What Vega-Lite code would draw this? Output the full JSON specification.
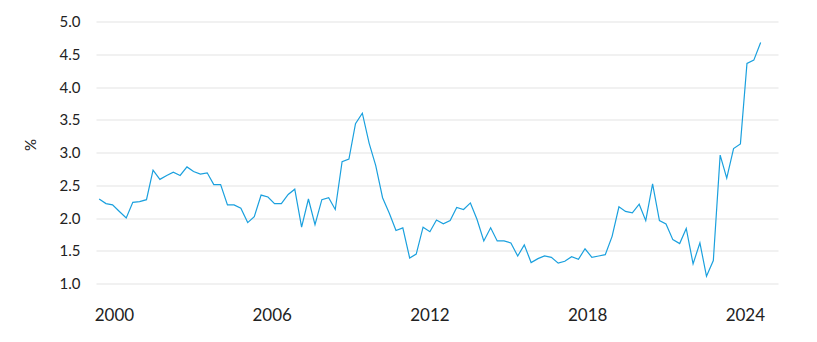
{
  "$schema": "https://vega.github.io/schema/vega-lite/v6.json",
  "width": 682,
  "height": 262,
  "autosize": "none",
  "padding": {"left": 96, "top": 21.5, "right": 39, "bottom": 58.5},
  "background": "white",
  "config": {
    "view": {"stroke": null},
    "font": "Lato"
  },
  "data": {
    "values": [
      {"year": 1999.44, "value": 2.29},
      {"year": 1999.70, "value": 2.22},
      {"year": 1999.95, "value": 2.20},
      {"year": 2000.21, "value": 2.10},
      {"year": 2000.47, "value": 2.00},
      {"year": 2000.72, "value": 2.24},
      {"year": 2000.98, "value": 2.25},
      {"year": 2001.24, "value": 2.28},
      {"year": 2001.49, "value": 2.73},
      {"year": 2001.75, "value": 2.59},
      {"year": 2002.01, "value": 2.65},
      {"year": 2002.26, "value": 2.70},
      {"year": 2002.52, "value": 2.65},
      {"year": 2002.78, "value": 2.78},
      {"year": 2003.03, "value": 2.71},
      {"year": 2003.29, "value": 2.67},
      {"year": 2003.55, "value": 2.69},
      {"year": 2003.80, "value": 2.51},
      {"year": 2004.06, "value": 2.51},
      {"year": 2004.32, "value": 2.20},
      {"year": 2004.57, "value": 2.20},
      {"year": 2004.83, "value": 2.15},
      {"year": 2005.09, "value": 1.93},
      {"year": 2005.34, "value": 2.02},
      {"year": 2005.60, "value": 2.35},
      {"year": 2005.86, "value": 2.32},
      {"year": 2006.11, "value": 2.22},
      {"year": 2006.37, "value": 2.22},
      {"year": 2006.63, "value": 2.36},
      {"year": 2006.88, "value": 2.44},
      {"year": 2007.14, "value": 1.86},
      {"year": 2007.40, "value": 2.29},
      {"year": 2007.65, "value": 1.90},
      {"year": 2007.91, "value": 2.28},
      {"year": 2008.17, "value": 2.31},
      {"year": 2008.42, "value": 2.13},
      {"year": 2008.68, "value": 2.86},
      {"year": 2008.94, "value": 2.90},
      {"year": 2009.19, "value": 3.44},
      {"year": 2009.45, "value": 3.60},
      {"year": 2009.71, "value": 3.14},
      {"year": 2009.96, "value": 2.80},
      {"year": 2010.22, "value": 2.31},
      {"year": 2010.48, "value": 2.07},
      {"year": 2010.73, "value": 1.81},
      {"year": 2010.99, "value": 1.85},
      {"year": 2011.25, "value": 1.39},
      {"year": 2011.50, "value": 1.45},
      {"year": 2011.76, "value": 1.86},
      {"year": 2012.02, "value": 1.79},
      {"year": 2012.27, "value": 1.97},
      {"year": 2012.53, "value": 1.91},
      {"year": 2012.79, "value": 1.96},
      {"year": 2013.04, "value": 2.16},
      {"year": 2013.30, "value": 2.13},
      {"year": 2013.56, "value": 2.23},
      {"year": 2013.81, "value": 1.98},
      {"year": 2014.07, "value": 1.65},
      {"year": 2014.33, "value": 1.85},
      {"year": 2014.58, "value": 1.65},
      {"year": 2014.84, "value": 1.65},
      {"year": 2015.10, "value": 1.62},
      {"year": 2015.36, "value": 1.42},
      {"year": 2015.61, "value": 1.59},
      {"year": 2015.87, "value": 1.32},
      {"year": 2016.13, "value": 1.38},
      {"year": 2016.38, "value": 1.42},
      {"year": 2016.64, "value": 1.40},
      {"year": 2016.90, "value": 1.31},
      {"year": 2017.15, "value": 1.34},
      {"year": 2017.41, "value": 1.41},
      {"year": 2017.67, "value": 1.37},
      {"year": 2017.92, "value": 1.53},
      {"year": 2018.18, "value": 1.40},
      {"year": 2018.44, "value": 1.42},
      {"year": 2018.69, "value": 1.44},
      {"year": 2018.95, "value": 1.72},
      {"year": 2019.21, "value": 2.17},
      {"year": 2019.46, "value": 2.10},
      {"year": 2019.72, "value": 2.08},
      {"year": 2019.98, "value": 2.21},
      {"year": 2020.23, "value": 1.96},
      {"year": 2020.49, "value": 2.52},
      {"year": 2020.75, "value": 1.96},
      {"year": 2021.00, "value": 1.91},
      {"year": 2021.26, "value": 1.67},
      {"year": 2021.52, "value": 1.61},
      {"year": 2021.77, "value": 1.84},
      {"year": 2022.03, "value": 1.30},
      {"year": 2022.29, "value": 1.62},
      {"year": 2022.54, "value": 1.11},
      {"year": 2022.80, "value": 1.35},
      {"year": 2023.06, "value": 2.96},
      {"year": 2023.31, "value": 2.61},
      {"year": 2023.57, "value": 3.06},
      {"year": 2023.83, "value": 3.13},
      {"year": 2024.08, "value": 4.36},
      {"year": 2024.34, "value": 4.41},
      {"year": 2024.60, "value": 4.68}
    ]
  },
  "mark": {"type": "line", "color": "#1aa0de", "strokeWidth": 1.2, "clip": true},
  "encoding": {
    "x": {
      "field": "year",
      "type": "quantitative",
      "scale": {"domain": [1999.32, 2025.26], "nice": false, "zero": false},
      "axis": {
        "title": null,
        "values": [2000, 2006, 2012, 2018, 2024],
        "format": "d",
        "grid": false,
        "domain": false,
        "ticks": false,
        "tickSize": 0,
        "labelPadding": 24,
        "labelBaseline": "top",
        "labelFontSize": 17,
        "labelColor": "#222222",
        "labelFont": "Lato"
      }
    },
    "y": {
      "field": "value",
      "type": "quantitative",
      "scale": {"domain": [1, 5], "nice": false, "zero": false},
      "axis": {
        "title": "%",
        "titleAngle": -90,
        "titleX": -66,
        "titleY": 123,
        "titleAlign": "center",
        "titleBaseline": "middle",
        "titleFontSize": 15,
        "titleFontWeight": "normal",
        "titleColor": "#222222",
        "titleFont": "Lato",
        "values": [1, 1.5, 2, 2.5, 3, 3.5, 4, 4.5, 5],
        "format": ".1f",
        "grid": true,
        "gridColor": "#e3e3e3",
        "gridWidth": 1,
        "domain": false,
        "ticks": false,
        "tickSize": 0,
        "labelPadding": 16,
        "labelFontSize": 15,
        "labelColor": "#222222",
        "labelFont": "Lato"
      }
    }
  }
}
